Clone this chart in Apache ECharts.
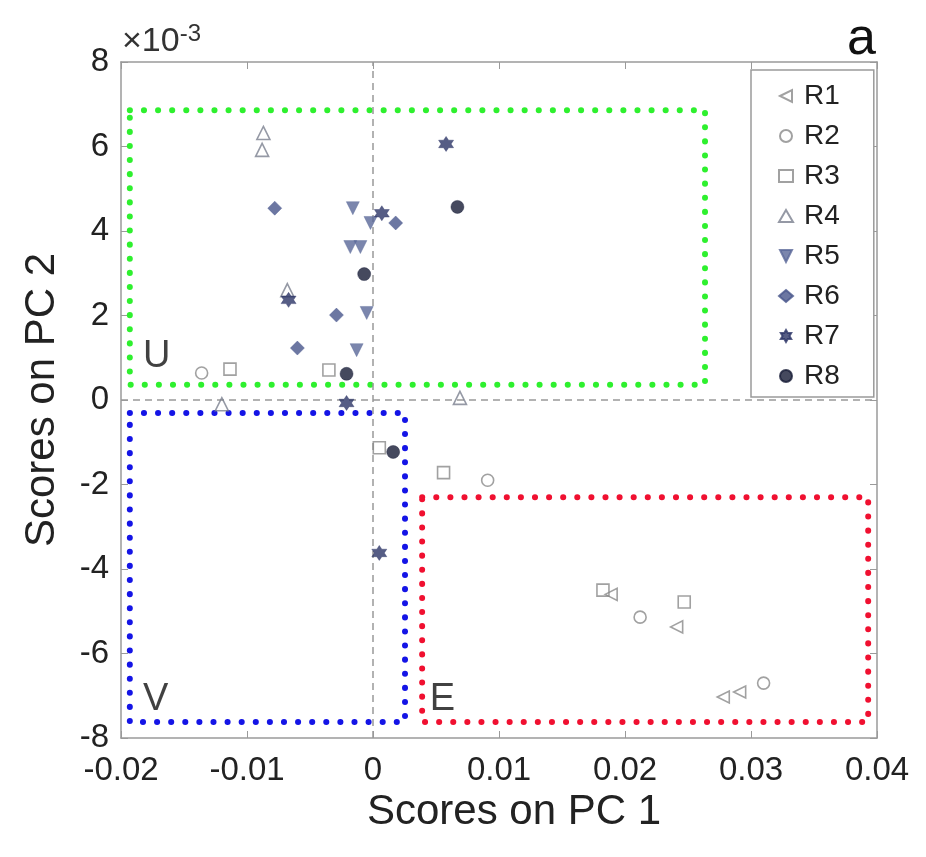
<!DOCTYPE html>
<html><head><meta charset="utf-8">
<script src="https://cdn.jsdelivr.net/npm/echarts@6/dist/echarts.min.js"></script>
<style>html,body{margin:0;padding:0;background:#fff}#c{width:926px;height:857px}</style>
</head><body><div id="c"></div>
<script>
// Data (y values in units of 1e-3)
const seriesNames = ['R1','R2','R3','R4','R5','R6','R7','R8'];
const R1 = [[0.0241,-5.37],[0.0189,-4.60],[0.0278,-7.03],[0.0291,-6.91]];
const R2 = [[0.0212,-5.14],[0.0310,-6.70],[0.0091,-1.90],[-0.0136,0.64]];
const R3 = [[-0.01135,0.73],[-0.0035,0.71],[0.0005,-1.13],[0.0056,-1.72],[0.01825,-4.50],[0.0247,-4.78]];
const R4 = [[-0.0087,6.32],[-0.0088,5.92],[-0.0120,-0.10],[0.0069,0.05],[-0.0068,2.60]];
const R5 = [[-0.0016,4.54],[-0.0002,4.19],[-0.0018,3.62],[-0.0010,3.62],[-0.0005,2.06],[-0.0013,1.18]];
const R6 = [[-0.0078,4.54],[0.0018,4.19],[-0.0029,2.01],[-0.0060,1.23]];
const R7 = [[0.0058,6.06],[-0.0021,-0.07],[-0.0067,2.37],[0.0005,-3.62],[0.0007,4.42]];
const R8 = [[0.0067,4.57],[-0.0007,2.98],[-0.0021,0.62],[0.0016,-1.23]];
const boxU = [[-0.0193,6.86],[0.02635,6.86],[0.02635,0.36],[-0.0193,0.36],[-0.0193,6.86]];
const boxV = [[-0.0193,-0.31],[0.00254,-0.31],[0.00254,-7.62],[-0.0193,-7.62],[-0.0193,-0.31]];
const boxE = [[0.0039,-2.30],[0.0393,-2.30],[0.0393,-7.62],[0.0039,-7.62],[0.0039,-2.30]];
const regionLabels = [[-0.01825,0.59,'U'],[-0.01825,-7.53,'V'],[0.0045,-7.53,'E']];

const seriesData = [R1,R2,R3,R4,R5,R6,R7,R8];
const STAR = 'path://M10,0 L12.89,5 L18.66,5 L15.77,10 L18.66,15 L12.89,15 L10,20 L7.11,15 L1.34,15 L4.23,10 L1.34,5 L7.11,5 Z';
const symbols = ['path://M0,5 L10,0 L10,10 Z','circle','rect','triangle','path://M0,0 L10,0 L5,10 Z','diamond',STAR,'circle'];
const sizes = [12,12,12,13,13,14,15,13];
const fills = ['rgba(0,0,0,0)','rgba(0,0,0,0)','rgba(0,0,0,0)','rgba(0,0,0,0)','#5a6898','#47558b','#2c3566','#161b36'];
const borders = ['#8a8a8a','#8a8a8a','#8a8a8a','#7a7f8f','#5a6898','#47558b','#2c3566','#161b36'];

const series = seriesNames.map((n,i)=>({
  name:n, type:'scatter', data:seriesData[i], symbol:symbols[i], symbolSize:sizes[i], z:5,
  itemStyle:{color:fills[i], borderColor:borders[i], borderWidth: i<4?1.6:0.5}
}));
const boxStyle = (data,color)=>({type:'line', data, showSymbol:false, symbol:'none', silent:true, z:3,
  lineStyle:{color, width:6, type:[0.1,14], cap:'round'}});
series.push(boxStyle(boxU,'#2ef02e'));
series.push(boxStyle(boxV,'#1414e6'));
series.push(boxStyle(boxE,'#f01030'));
series.push({type:'scatter', data:regionLabels, symbolSize:0, silent:true, z:6,
  label:{show:true, position:'inside', formatter:p=>p.data[2], fontFamily:'Liberation Sans', fontSize:38, color:'#111', align:'left', verticalAlign:'bottom'}});
series.push({type:'line', data:[], silent:true, markLine:{symbol:'none', silent:true, label:{show:false},
  lineStyle:{color:'#999', type:[7,5], width:1.5}, data:[{xAxis:0},{yAxis:0}]}});

const axisCommon = {axisLine:{show:true, onZero:false, lineStyle:{color:'#9a9a9a', width:1.5}},
  axisTick:{show:true, inside:true, length:7, lineStyle:{color:'#9a9a9a'}}, splitLine:{show:false}};
const chart = echarts.init(document.getElementById('c'));
chart.setOption({
  animation:false,
  grid:{left:121, right:49, top:62, bottom:119},
  xAxis:[
    Object.assign({type:'value', min:-0.02, max:0.04, interval:0.01, position:'bottom',
      name:'Scores on PC 1', nameLocation:'middle', nameGap:42,
      nameTextStyle:{fontFamily:'Liberation Sans', fontSize:42, color:'#222', padding:[0,0,0,30]},
      axisLabel:{fontFamily:'Liberation Sans', fontSize:33, color:'#222', margin:16,
        formatter:v=>String(Math.round(v*100)/100)}}, axisCommon),
    Object.assign({type:'value', min:-0.02, max:0.04, interval:0.01, position:'top', axisLabel:{show:false}}, axisCommon)
  ],
  yAxis:[
    Object.assign({type:'value', min:-8, max:8, interval:2, position:'left',
      name:'Scores on PC 2', nameLocation:'middle', nameGap:58,
      nameTextStyle:{fontFamily:'Liberation Sans', fontSize:42, color:'#222'},
      axisLabel:{fontFamily:'Liberation Sans', fontSize:33, color:'#222', margin:12}}, axisCommon),
    Object.assign({type:'value', min:-8, max:8, interval:2, position:'right', axisLabel:{show:false}}, axisCommon)
  ],
  legend:{data:seriesNames, orient:'vertical', left:751, top:70,
    backgroundColor:'#fff', borderColor:'#9a9a9a', borderWidth:1.5, padding:[12,34,7,27],
    itemWidth:14, itemHeight:12, itemGap:12,
    textStyle:{fontFamily:'Liberation Sans', fontSize:28, color:'#222', lineHeight:28, padding:[0,0,0,6]}},
  graphic:[
    {type:'text', left:122, top:22, style:{text:'×10{sup|-3}', fontFamily:'Liberation Sans', fontSize:34, fill:'#333',
      rich:{sup:{fontSize:24, verticalAlign:'top', padding:[0,0,16,0]}}}},
    {type:'text', right:50, top:14, style:{text:'a', fontFamily:'Liberation Sans', fontSize:52, fill:'#111'}}
  ],
  series
});
</script></body></html>
